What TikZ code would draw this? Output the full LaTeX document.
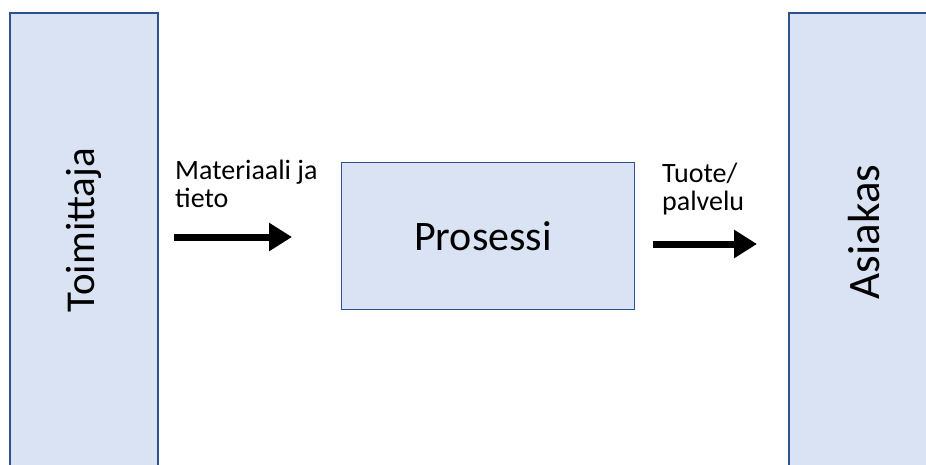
\documentclass[tikz,border=0pt]{standalone}
\usepackage{fontspec}
\setmainfont{Carlito}
\usetikzlibrary{arrows.meta}
\definecolor{boxfill}{HTML}{DAE3F3}
\definecolor{boxline}{HTML}{2F528F}
\tikzset{
  panel/.style={draw=boxline, fill=boxfill, line width=1.5pt},
  flowarrow/.style={line width=7pt, -{Triangle[length=23pt,width=27pt]}},
  smalllabel/.style={inner sep=0pt, align=left, font=\fontsize{28}{27.5}\selectfont},
  biglabel/.style={inner sep=0pt, font=\fontsize{41}{48}\selectfont},
}
\begin{document}
\begin{tikzpicture}[x=1pt,y=-1pt]
  \useasboundingbox (0,0) rectangle (926,464);
  \begin{scope}
    \clip (0,0) rectangle (926,464);
    % side panels run off the page edges
    \draw[panel] (10,13) rectangle (158,480);
    \draw[panel] (789,13) rectangle (940,480);
  \end{scope}
  \node[biglabel, rotate=90, anchor=center] (supplier) at (84,230) {Toimittaja};
  \node[biglabel, rotate=90, anchor=center, font=\fontsize{45}{52}\selectfont] (customer) at (864,232) {Asiakas};

  % central process box
  \node[panel, line width=1pt, minimum width=293pt, minimum height=147pt, inner sep=0pt] (process) at (487.5,235.5) {};
  \node[biglabel, anchor=base, font=\fontsize{42}{48}\selectfont] (processlabel) at (483,250) {Prosessi};

  % input flow (base anchor sits on the last line)
  \node[smalllabel, anchor=base west] (inlabel) at (175,207) {Materiaali ja\\tieto};
  \coordinate (inA) at (174,237);
  \coordinate (inB) at (292,237);
  \draw[flowarrow] (inA) -- (inB);

  % output flow
  \node[smalllabel, anchor=base west] (outlabel) at (662,210) {Tuote/\\palvelu};
  \coordinate (outA) at (653,244);
  \coordinate (outB) at (757,244);
  \draw[flowarrow] (outA) -- (outB);
\end{tikzpicture}
\end{document}
